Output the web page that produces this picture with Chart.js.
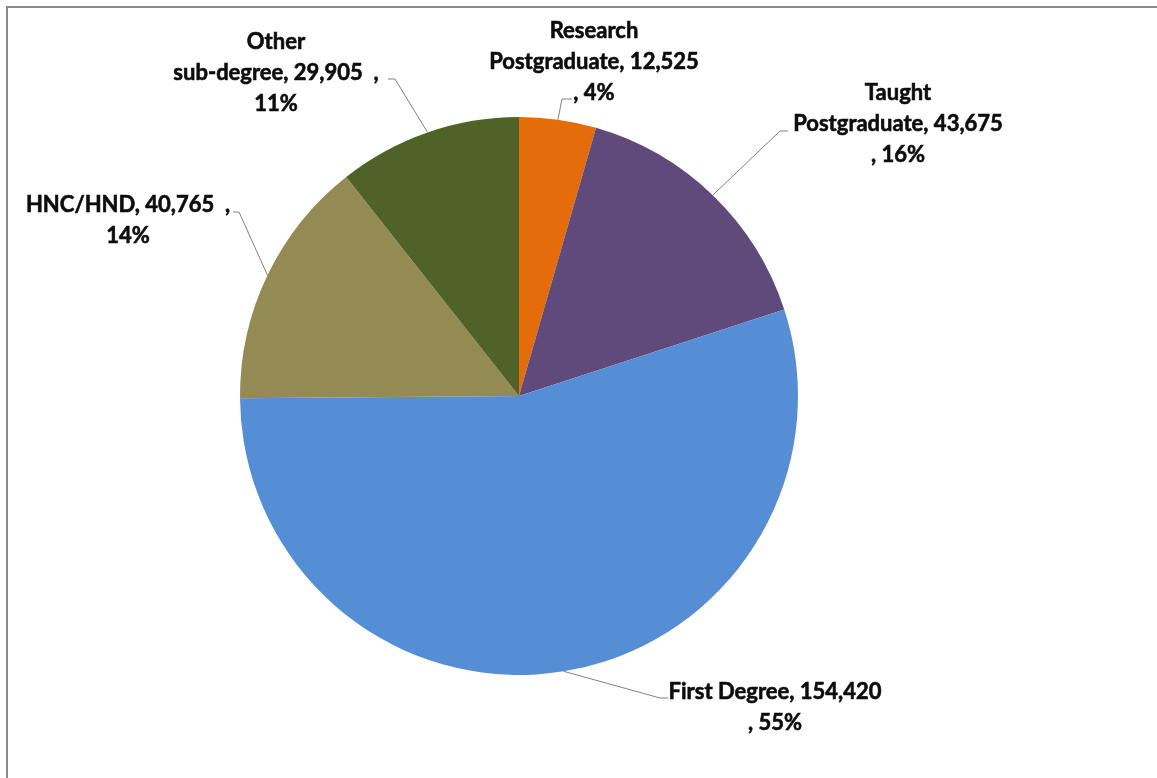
<!DOCTYPE html>
<html>
<head>
<meta charset="utf-8">
<script src="https://cdn.jsdelivr.net/npm/chart.js@4"></script>
<style>
  html, body { margin: 0; padding: 0; background: #fff; }
  #wrap { position: relative; width: 1157px; height: 778px; }
  #frame {
    position: absolute; left: 6px; top: 6px; right: 0; bottom: 0;
    border-top: 2px solid #8a8a8a; border-left: 2px solid #8a8a8a;
  }
  canvas { position: absolute; left: 0; top: 0; }
</style>
</head>
<body>
<div id="wrap">
  <div id="frame"></div>
  <canvas id="myChart" width="1157" height="778"></canvas>
</div>
<script>
const categories = ['Research Postgraduate', 'Taught Postgraduate', 'First Degree', 'HNC/HND', 'Other sub-degree'];
const students = [12525, 43675, 154420, 40765, 29905];
const colours = ['#E46C0A', '#604A7B', '#558ED5', '#948A54', '#4F6228'];

// how each label wraps; {v} = value, {p} = percent
const labelLines = [
    ['Research', 'Postgraduate, {v}', ', {p}%'],
    ['Taught', 'Postgraduate, {v}', ', {p}%'],
    ['First Degree, {v}', ', {p}%'],
    ['HNC/HND, {v}  ,', '{p}%'],
    ['Other', 'sub-degree, {v}  ,', '{p}%'],
];

// label block centre x / first line y, and the leader elbow + end
const labelPos = [
    { x: 594, y: 31, elbow: [562, 99], end: [572, 99] },
    { x: 898, y: 93, elbow: [780, 131], end: [788, 131] },
    { x: 775, y: 692, elbow: [660, 698], end: [668, 698] },
    { x: 128, y: 205, elbow: [239, 212], end: [233, 212] },
    { x: 276, y: 42, elbow: [395, 79], end: [388, 79] },
];

const total = students.reduce((a, b) => a + b, 0);

const pieLabels = {
    id: 'pieLabels',
    afterDraw(chart) {
        const ctx = chart.ctx;
        const arcs = chart.getDatasetMeta(0).data;
        ctx.save();

        arcs.forEach((arc, i) => {
            const p = arc.getProps(['x', 'y', 'startAngle', 'endAngle', 'outerRadius'], true);
            const mid = (p.startAngle + p.endAngle) / 2;
            const ex = p.x + Math.cos(mid) * p.outerRadius;
            const ey = p.y + Math.sin(mid) * p.outerRadius;
            const pos = labelPos[i];

            ctx.strokeStyle = '#808080';
            ctx.lineWidth = 1;
            ctx.beginPath();
            ctx.moveTo(ex, ey);
            ctx.lineTo(pos.elbow[0], pos.elbow[1]);
            ctx.lineTo(pos.end[0], pos.end[1]);
            ctx.stroke();

            const pct = Math.round(students[i] / total * 100);
            const val = students[i].toLocaleString('en-US');
            ctx.fillStyle = '#0d0d0d';
            ctx.strokeStyle = '#0d0d0d';
            ctx.lineWidth = 0.6;   // a bit heavier than plain Lato bold
            ctx.font = 'bold 22px Lato';
            ctx.textAlign = 'center';
            ctx.textBaseline = 'middle';
            labelLines[i].forEach((t, k) => {
                const txt = t.replace('{v}', val).replace('{p}', pct);
                ctx.fillText(txt, pos.x, pos.y + k * 31);
                ctx.strokeText(txt, pos.x, pos.y + k * 31);
            });
        });
        ctx.restore();
    }
};

new Chart(document.getElementById('myChart').getContext('2d'), {
    type: 'pie',
    data: {
        labels: categories,
        datasets: [{
            data: students,
            backgroundColor: colours,
            borderWidth: 0,
        }]
    },
    options: {
        responsive: false,
        animation: false,
        layout: { padding: { top: 117, bottom: 103, left: 240, right: 359 } },
        plugins: {
            legend: { display: false },
            tooltip: { enabled: false },
        }
    },
    plugins: [pieLabels]
});
</script>
</body>
</html>
